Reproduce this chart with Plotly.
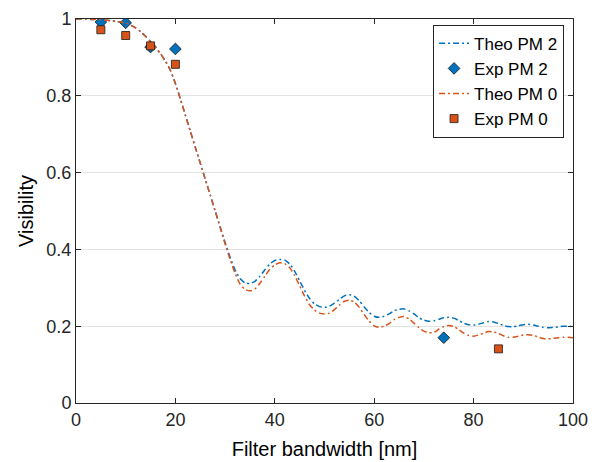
import plotly.graph_objects as go

# ---- data ----
theo_x = list(range(0, 101))

theo_pm2 = [
    1.000, 1.000, 1.000, 0.999, 0.999, 0.998, 0.997, 0.996, 0.994, 0.992,  # 0-9
    0.990, 0.984, 0.977, 0.967, 0.955, 0.941, 0.926, 0.910, 0.890, 0.866,  # 10-19
    0.832, 0.792, 0.750, 0.708, 0.666, 0.625, 0.583, 0.542, 0.500, 0.459,  # 20-29
    0.418, 0.380, 0.347, 0.324, 0.313, 0.311, 0.317, 0.330, 0.347, 0.362,  # 30-39
    0.371, 0.374, 0.372, 0.362, 0.343, 0.318, 0.293, 0.272, 0.258, 0.251,  # 40-49
    0.249, 0.252, 0.260, 0.270, 0.279, 0.282, 0.278, 0.266, 0.250, 0.236,  # 50-59
    0.226, 0.223, 0.226, 0.232, 0.240, 0.244, 0.245, 0.240, 0.232, 0.222,  # 60-69
    0.216, 0.213, 0.214, 0.218, 0.222, 0.223, 0.221, 0.215, 0.208, 0.204,  # 70-79
    0.203, 0.205, 0.209, 0.212, 0.211, 0.207, 0.202, 0.199, 0.199, 0.201,  # 80-89
    0.204, 0.205, 0.203, 0.200, 0.197, 0.196, 0.197, 0.198, 0.200, 0.200,  # 90-99
    0.199,
]

theo_pm0 = [
    1.000, 1.000, 1.000, 0.999, 0.999, 0.998, 0.997, 0.996, 0.994, 0.992,
    0.990, 0.984, 0.977, 0.967, 0.955, 0.941, 0.926, 0.910, 0.890, 0.866,
    0.832, 0.792, 0.750, 0.708, 0.666, 0.625, 0.583, 0.542, 0.500, 0.457,
    0.414, 0.374, 0.338, 0.310, 0.296, 0.292, 0.297, 0.312, 0.330, 0.348,
    0.360, 0.365, 0.363, 0.352, 0.332, 0.305, 0.278, 0.256, 0.242, 0.234,
    0.232, 0.234, 0.243, 0.255, 0.265, 0.268, 0.263, 0.249, 0.230, 0.213,
    0.201, 0.197, 0.200, 0.207, 0.217, 0.223, 0.225, 0.219, 0.208, 0.196,
    0.187, 0.183, 0.184, 0.192, 0.199, 0.202, 0.199, 0.191, 0.182, 0.176,
    0.174, 0.177, 0.182, 0.186, 0.185, 0.181, 0.175, 0.171, 0.171, 0.174,
    0.177, 0.178, 0.176, 0.172, 0.168, 0.167, 0.168, 0.170, 0.171, 0.171,
    0.170,
]

exp_pm2_x = [5, 10, 15, 20, 74]
exp_pm2_y = [0.992, 0.990, 0.927, 0.922, 0.170]

exp_pm0_x = [5, 10, 15, 20, 85]
exp_pm0_y = [0.972, 0.957, 0.930, 0.882, 0.141]

x_ticks = [0, 20, 40, 60, 80, 100]
y_ticks = [0, 0.2, 0.4, 0.6, 0.8, 1]
y_tick_text = ["0", "0.2", "0.4", "0.6", "0.8", "1"]

BLUE = "#0072BD"
ORANGE = "#D95319"
AXC = "#262626"
FONT = "Arial, Liberation Sans, sans-serif"
DASH = "6px,3px,2px,3px"

fig = go.Figure()
fig.add_trace(go.Scatter(
    x=theo_x, y=theo_pm2, mode="lines", name="Theo PM 2",
    line=dict(color=BLUE, width=1.5, dash=DASH, shape="spline", smoothing=0.6),
))
fig.add_trace(go.Scatter(
    x=exp_pm2_x, y=exp_pm2_y, mode="markers", name="Exp PM 2",
    marker=dict(symbol="diamond", size=9, color=BLUE,
                line=dict(color="#1a1a1a", width=0.8)),
))
fig.add_trace(go.Scatter(
    x=theo_x, y=theo_pm0, mode="lines", name="Theo PM 0",
    line=dict(color=ORANGE, width=1.5, dash=DASH, shape="spline", smoothing=0.6),
))
fig.add_trace(go.Scatter(
    x=exp_pm0_x, y=exp_pm0_y, mode="markers", name="Exp PM 0",
    marker=dict(symbol="square", size=8, color=ORANGE,
                line=dict(color="#1a1a1a", width=0.8)),
))

# page body has an 8px default margin, so the figure is drawn 8px in
fig.update_layout(
    width=598, height=454,
    margin=dict(l=68, r=33, t=11, b=59),
    paper_bgcolor="white", plot_bgcolor="white",
    font=dict(family=FONT, color=AXC, size=18),
    showlegend=True,
    legend=dict(
        x=0.982, y=0.985, xanchor="right", yanchor="top",
        bgcolor="white", bordercolor=AXC, borderwidth=1,
        font=dict(size=17, color="#000000"),
        tracegroupgap=0,
    ),
)
fig.update_xaxes(
    range=[0, 100], tickvals=x_ticks, ticks="inside", ticklen=5, tickcolor=AXC,
    showline=True, linecolor=AXC, linewidth=1, mirror="ticks",
    showgrid=False, zeroline=False, automargin=False, ticklabeloverflow="allow",
    tickfont=dict(size=18, color=AXC),
    title=dict(text="Filter bandwidth [nm]", font=dict(size=20, color="#000000"), standoff=13),
)
fig.update_yaxes(
    range=[0, 1], tickvals=y_ticks, ticktext=y_tick_text,
    ticks="inside", ticklen=5, tickcolor=AXC,
    showline=True, linecolor=AXC, linewidth=1, mirror="ticks",
    showgrid=True, gridcolor="#E3E3E3", gridwidth=1, zeroline=False,
    automargin=False, ticklabeloverflow="allow",
    tickfont=dict(size=18, color=AXC),
    title=dict(text="Visibility", font=dict(size=20, color="#000000"), standoff=7),
)

fig.write_html("out.html")
